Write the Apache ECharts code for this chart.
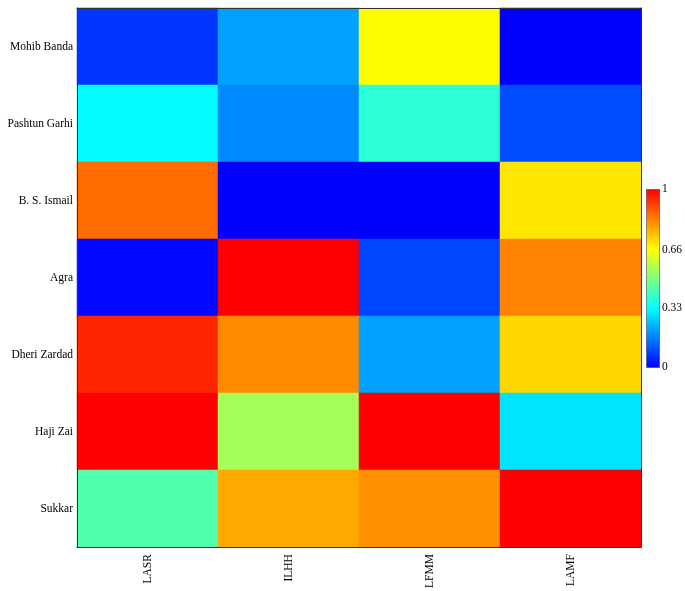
<!DOCTYPE html>
<html>
<head>
<meta charset="utf-8">
<script src="https://cdn.jsdelivr.net/npm/echarts@6/dist/echarts.min.js"></script>
<style>
  html, body { margin: 0; padding: 0; background: #fff; }
  #main { width: 685px; height: 591px; }
</style>
</head>
<body>
<div id="main"></div>
<script>
// sites, top to bottom
const sites = ['Mohib Banda', 'Pashtun Garhi', 'B. S. Ismail', 'Agra', 'Dheri Zardad', 'Haji Zai', 'Sukkar']
const indices = ['LASR', 'ILHH', 'LFMM', 'LAMF']

// one column per index, values top to bottom
const lasr = [0.07, 0.33, 0.86, 0.01, 0.95, 1.00, 0.44]
const ilhh = [0.21, 0.18, 0.00, 1.00, 0.82, 0.55, 0.78]
const lfmm = [0.67, 0.39, 0.00, 0.09, 0.21, 1.00, 0.81]
const lamf = [0.00, 0.10, 0.70, 0.83, 0.72, 0.30, 1.00]

const scaleTicks = [0, 0.33, 0.66, 1]
const scaleLabels = ['0', '0.33', '0.66', '1']

const columns = [lasr, ilhh, lfmm, lamf]
const cells = []
columns.forEach((col, x) => {
  col.forEach((v, y) => {
    cells.push([x, y, v])
  })
})

const font = 'Liberation Serif'
var myChart = echarts.init(document.getElementById('main'))

myChart.setOption({
  animation: false,
  grid: [
    { left: 77, top: 8, right: 44, bottom: 43 },
    { left: 646, top: 189, width: 13, height: 178 }
  ],
  xAxis: [
    {
      type: 'category',
      data: indices,
      gridIndex: 0,
      z: 10,
      axisLine: { show: true, lineStyle: { color: '#333', width: 1 } },
      axisTick: { show: false },
      axisLabel: {
        rotate: 90,
        margin: 7,
        color: '#000',
        fontFamily: font,
        fontSize: 11.5
      },
      splitArea: { show: false }
    },
    {
      type: 'category',
      data: indices,
      gridIndex: 0,
      position: 'top',
      z: 10,
      axisLine: { show: true, lineStyle: { color: '#333', width: 1 } },
      axisTick: { show: false },
      axisLabel: { show: false }
    },
    {
      type: 'value',
      gridIndex: 1,
      show: false
    }
  ],
  yAxis: [
    {
      type: 'category',
      data: sites,
      inverse: true,
      gridIndex: 0,
      z: 10,
      axisLine: { show: true, lineStyle: { color: '#333', width: 1 } },
      axisTick: { show: false },
      axisLabel: {
        margin: 4,
        color: '#000',
        fontFamily: font,
        fontSize: 11.5
      }
    },
    {
      type: 'category',
      data: sites,
      inverse: true,
      gridIndex: 0,
      position: 'right',
      z: 10,
      axisLine: { show: true, lineStyle: { color: '#333', width: 1 } },
      axisTick: { show: false },
      axisLabel: { show: false }
    },
    {
      // tick labels for the colour scale
      type: 'value',
      gridIndex: 1,
      position: 'right',
      min: 0,
      max: 1,
      axisLine: { show: false },
      axisTick: { show: false },
      splitLine: { show: false },
      axisLabel: {
        customValues: scaleTicks,
        margin: 3,
        color: '#000',
        fontFamily: font,
        fontSize: 11.5,
        formatter: (v) => scaleLabels[scaleTicks.indexOf(v)]
      }
    }
  ],
  visualMap: {
    type: 'continuous',
    min: 0,
    max: 1,
    calculable: false,
    seriesIndex: 0,
    left: 646,
    top: 189,
    itemWidth: 13,
    itemHeight: 178,
    padding: 0,
    text: null,
    showLabel: false,
    borderColor: '#555',
    borderWidth: 1,
    inRange: {
      color: ['#0000ff', '#00ffff', '#ffff00', '#ff0000']
    }
  },
  series: [
    {
      type: 'heatmap',
      xAxisIndex: 0,
      yAxisIndex: 0,
      data: cells,
      label: { show: false },
      emphasis: { disabled: true }
    }
  ]
})
</script>
</body>
</html>
